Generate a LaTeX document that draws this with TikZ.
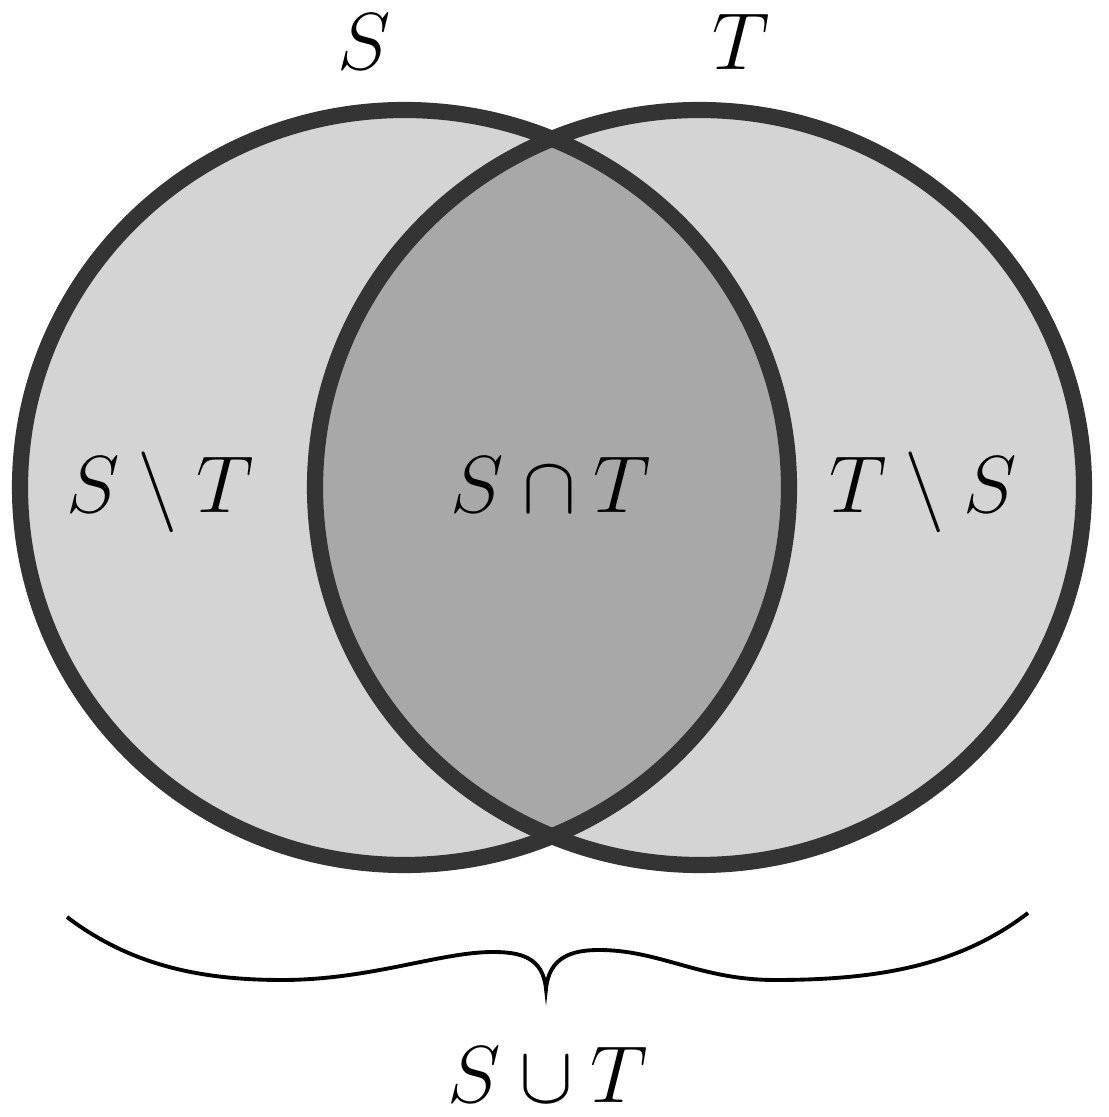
\documentclass[tikz,border=0pt]{standalone}
\usepackage{fix-cm}
\usepackage{amsmath, amssymb}
\usepackage{xcolor}
\usepackage{tikz}
\usetikzlibrary{calc}

\definecolor{nhat}{RGB}{212,212,212}
\definecolor{dam}{RGB}{168,168,168}
\definecolor{vien}{RGB}{52,52,52}

\begin{document}
\begin{tikzpicture}[
    vong/.style={draw=vien, line width=4.6pt},
    nhan/.style={anchor=base, inner sep=0pt, font=\fontsize{23}{27}\selectfont},
    ngoac/.style={draw=black, line width=1.1pt, line join=miter}
  ]
    \useasboundingbox (0,0) rectangle (11.08,11.17);

    % =================================================================
    % PHẦN 1: HAI TẬP HỢP S VÀ T
    % =================================================================
    \coordinate (O1) at (4.045,6.295);
    \coordinate (O2) at (6.995,6.295);

    % Nền xám nhạt cho hai tập
    \fill[nhat] (O1) ellipse [x radius=3.845, y radius=3.775];
    \fill[nhat] (O2) ellipse [x radius=3.845, y radius=3.775];

    % Phần giao tô đậm hơn
    \begin{scope}
        \clip (O1) ellipse [x radius=3.845, y radius=3.775];
        \fill[dam] (O2) ellipse [x radius=3.845, y radius=3.775];
    \end{scope}

    % Đường viền
    \draw[vong] (O1) ellipse [x radius=3.845, y radius=3.775];
    \draw[vong] (O2) ellipse [x radius=3.845, y radius=3.775];

    % Tên các tập và các miền
    \node[nhan] (S) at (3.64,10.47) {$S$};
    \node[nhan] (T) at (7.41,10.47) {$T$};
    \node[nhan] (SmT) at (1.60,6.04) {$S\setminus T$};
    \node[nhan] (SgT) at (5.51,6.04) {$S\cap T$};
    \node[nhan] (TmS) at (9.23,6.04) {$T\setminus S$};

    % =================================================================
    % PHẦN 2: DẤU NGOẶC VÀ HỢP S, T
    % =================================================================
    \coordinate (L) at (0.67,2.00);
    \coordinate (L1) at (2.82,1.37);
    \coordinate (L2) at (4.93,1.65);
    \coordinate (M) at (5.46,1.28);
    \coordinate (R2) at (5.99,1.67);
    \coordinate (R1) at (7.75,1.37);
    \coordinate (R) at (10.28,2.04);

    \draw[ngoac] (L) .. controls (1.3,1.52) and (2.0,1.37) .. (L1)
        .. controls (3.7,1.37) and (4.4,1.65) .. (L2)
        .. controls (5.2,1.65) and (5.43,1.6) .. (M)
        .. controls (5.49,1.6) and (5.72,1.67) .. (R2)
        .. controls (6.6,1.67) and (7.0,1.37) .. (R1)
        .. controls (8.8,1.37) and (9.6,1.52) .. (R);

    \node[nhan] (SuT) at (5.48,0.14) {$S\cup T$};

\end{tikzpicture}
\end{document}
